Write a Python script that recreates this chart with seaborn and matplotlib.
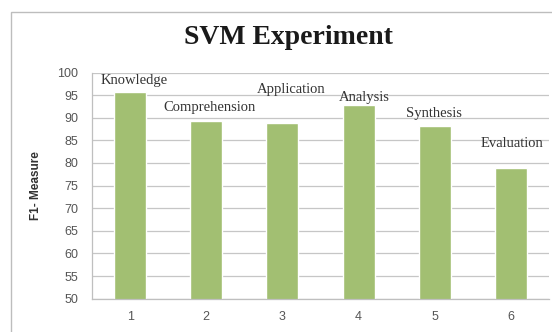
import matplotlib
matplotlib.use("Agg")
import matplotlib.pyplot as plt
import seaborn as sns
import pandas as pd
from matplotlib.patches import Rectangle

# Data
experiments = ["1", "2", "3", "4", "5", "6"]
f1_measure = [95.6, 89.2, 88.9, 92.9, 88.1, 78.9]
levels = ["Knowledge", "Comprehension", "Application", "Analysis", "Synthesis", "Evaluation"]

# Where each level name sits (category offset, y in data units)
label_pos = [(0.05, 98.2), (1.04, 92.2), (2.11, 96.2), (3.08, 94.5), (3.99, 91.0), (5.01, 84.4)]

sns.set_theme(style="white")
plt.rcParams["font.family"] = ["Liberation Sans", "DejaVu Sans"]

df = pd.DataFrame({"Experiment": experiments, "F1": f1_measure})

fig = plt.figure(figsize=(5.52, 3.32), dpi=100)
fig.patch.set_facecolor("white")
# outer chart frame
fig.patches.append(Rectangle((10.5 / 552, -0.05), 1.2, 1 - 12 / 332 + 0.05,
                             transform=fig.transFigure, fill=False,
                             edgecolor="#BDBDBD", linewidth=1.0))

ax = fig.add_axes([92 / 552, 1 - 298.7 / 332, (549 - 92) / 552, (298.7 - 72.5) / 332])
sns.barplot(data=df, x="Experiment", y="F1", color="#A2BF72", width=0.42,
            saturation=1, ax=ax)

ax.set_ylim(50, 100)
ax.set_xlim(-0.5, 5.5)
ax.set_yticks(range(50, 101, 5))
ax.yaxis.grid(True, color="#C6C6C6", linewidth=0.9)
ax.set_axisbelow(True)
for side in ["top", "right"]:
    ax.spines[side].set_visible(False)
for side in ["left", "bottom"]:
    ax.spines[side].set_color("#BFBFBF")
    ax.spines[side].set_linewidth(0.9)
ax.tick_params(axis="both", length=0, labelsize=9, colors="#555555")
ax.tick_params(axis="x", pad=9)
ax.tick_params(axis="y", pad=10)
ax.set_xlabel("")
ax.set_ylabel("F1- Measure", fontsize=8.5, fontweight="bold", color="#333333", labelpad=11)

for name, (px, py) in zip(levels, label_pos):
    ax.text(px, py, name, ha="center", va="center", fontsize=10.5,
            family="Liberation Serif", color="#333333")

fig.text(288 / 552, 1 - 38 / 332, "SVM Experiment", ha="center", va="center",
         fontsize=20, fontweight="bold", family="Liberation Serif", color="#1A1A1A")

fig.savefig("out.png", dpi=100)
